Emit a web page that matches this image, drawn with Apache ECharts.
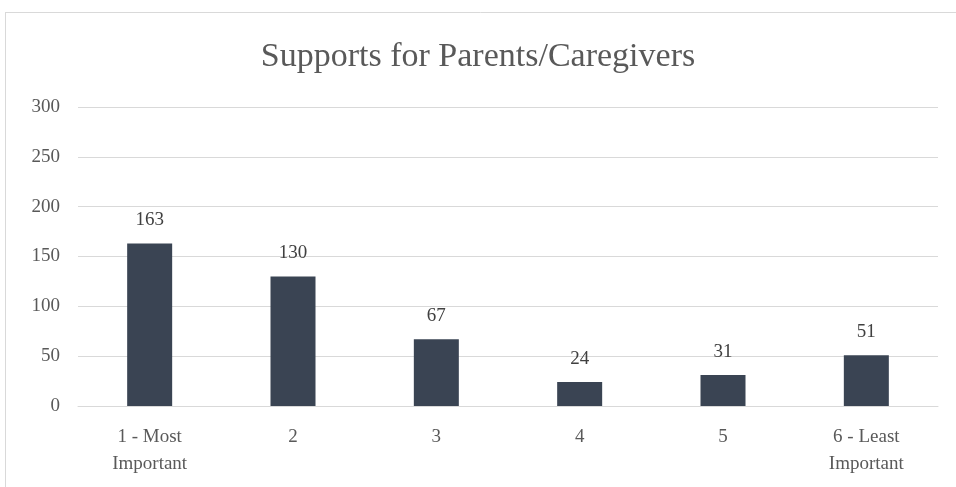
<!DOCTYPE html>
<html><head><meta charset="utf-8">
<script src="https://cdn.jsdelivr.net/npm/echarts@6/dist/echarts.min.js"></script>
<style>html,body{margin:0;padding:0;background:#fff}#c{width:956px;height:487px}</style>
</head><body><div id="c"></div>
<script>
const categories = ['1 - Most\nImportant', '2', '3', '4', '5', '6 - Least\nImportant'];
const values = [163, 130, 67, 24, 31, 51];
const yTicks = [0, 50, 100, 150, 200, 250, 300];
const titleText = 'Supports for Parents/Caregivers';

const FONT = '"Liberation Serif", "DejaVu Serif", serif';
const chart = echarts.init(document.getElementById('c'));
chart.setOption({
  backgroundColor: '#ffffff',
  animation: false,
  title: {
    text: titleText, left: 'center', top: 35,
    textStyle: { fontFamily: FONT, fontSize: 34, fontWeight: 'normal', color: '#595959' }
  },
  graphic: [
    { type: 'line', shape: { x1: 5, y1: 12.5, x2: 956, y2: 12.5 }, style: { stroke: '#d9d9d9', lineWidth: 1 } },
    { type: 'line', shape: { x1: 5.5, y1: 12, x2: 5.5, y2: 487 }, style: { stroke: '#d9d9d9', lineWidth: 1 } }
  ],
  grid: { left: 78, right: 18, top: 107, bottom: 81, containLabel: false },
  xAxis: {
    type: 'category', data: categories,
    axisTick: { show: false },
    axisLine: { lineStyle: { color: '#d9d9d9', width: 1 } },
    axisLabel: { fontFamily: FONT, fontSize: 19, color: '#595959', margin: 18, lineHeight: 27, interval: 0 }
  },
  yAxis: {
    type: 'value', min: yTicks[0], max: yTicks[yTicks.length - 1], interval: 50,
    axisLine: { show: false }, axisTick: { show: false },
    splitLine: { lineStyle: { color: '#d9d9d9', width: 1 } },
    axisLabel: { fontFamily: FONT, fontSize: 19, color: '#595959', margin: 18 }
  },
  series: [{
    type: 'bar', data: values, barWidth: 45,
    itemStyle: { color: '#3a4453' },
    label: { show: true, position: 'top', distance: 14, fontFamily: FONT, fontSize: 19, color: '#404040' }
  }]
});
</script></body></html>
